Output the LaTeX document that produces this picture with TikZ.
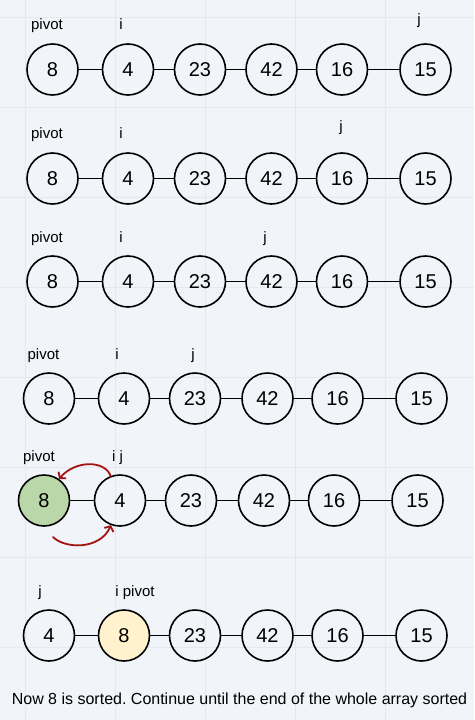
\documentclass[tikz,border=0pt]{standalone}
\usepackage{fontspec}
\setmainfont{Liberation Sans}
\usetikzlibrary{arrows.meta}
\frenchspacing
\definecolor{bgc}{HTML}{F1F4F8}
\definecolor{gridc}{HTML}{E5E9EE}
\definecolor{greenfill}{HTML}{B9D7A8}
\definecolor{yellowfill}{HTML}{FFF2CC}
\definecolor{redarrow}{HTML}{A51212}
\tikzset{
  num/.style={circle, draw=black, line width=1.6pt, minimum size=51pt, inner sep=0pt,
    font=\fontsize{20}{20}\selectfont},
  lab/.style={anchor=base, inner sep=0pt, font=\fontsize{15}{15}\selectfont},
  link/.style={draw=black, line width=1.2pt},
  swaparrow/.style={draw=redarrow, line width=1.8pt, line cap=round,
    -{Straight Barb[length=4pt,width=10pt]}},
}
\begin{document}
\begin{tikzpicture}[x=1pt,y=-1pt]
\useasboundingbox (0,0) rectangle (474,720);
\fill[bgc] (0,0) rectangle (474,720);
\foreach \gx in {25,115,205,295,385} \draw[gridc, line width=0.8pt] (\gx,0) -- (\gx,720);
\foreach \gy in {17,107,197,287,377,467,557,647} \draw[gridc, line width=0.8pt] (0,\gy) -- (474,\gy);

% Row 1
\node[num] (a1) at (52.5,69.5) {8};
\node[num] (a2) at (128,69.5) {4};
\node[num] (a3) at (200,69.5) {23};
\node[num] (a4) at (271.5,69.5) {42};
\node[num] (a5) at (342,69.5) {16};
\node[num] (a6) at (425.5,69.5) {15};
\node[lab] (ap) at (47,29) {pivot};
\node[lab] (ai) at (121,29) {i};
\node[lab] (aj) at (419,24) {j};
% Row 2
\node[num] (b1) at (52.5,178.5) {8};
\node[num] (b2) at (128,178.5) {4};
\node[num] (b3) at (200,178.5) {23};
\node[num] (b4) at (271.5,178.5) {42};
\node[num] (b5) at (342,178.5) {16};
\node[num] (b6) at (425.5,178.5) {15};
\node[lab] (bp) at (47,138) {pivot};
\node[lab] (bi) at (121,138) {i};
\node[lab] (bj) at (341,131) {j};
% Row 3
\node[num] (c1) at (52.5,281.5) {8};
\node[num] (c2) at (128,281.5) {4};
\node[num] (c3) at (200,281.5) {23};
\node[num] (c4) at (271.5,281.5) {42};
\node[num] (c5) at (342,281.5) {16};
\node[num] (c6) at (425.5,281.5) {15};
\node[lab] (cp) at (47,242) {pivot};
\node[lab] (ci) at (121,242) {i};
\node[lab] (cj) at (265,242) {j};
% Row 4
\node[num] (d1) at (49,398.5) {8};
\node[num] (d2) at (124,398.5) {4};
\node[num] (d3) at (195,398.5) {23};
\node[num] (d4) at (267.5,398.5) {42};
\node[num] (d5) at (337.5,398.5) {16};
\node[num] (d6) at (421.5,398.5) {15};
\node[lab] (dp) at (43.5,359) {pivot};
\node[lab] (di) at (117,359) {i};
\node[lab] (dj) at (193,359) {j};
% Row 5
\node[num, fill=greenfill] (e1) at (44,500.5) {8};
\node[num] (e2) at (120,500.5) {4};
\node[num] (e3) at (191,500.5) {23};
\node[num] (e4) at (264,500.5) {42};
\node[num] (e5) at (334,500.5) {16};
\node[num] (e6) at (417.5,500.5) {15};
\node[lab] (ep) at (39,461) {pivot};
\node[lab] (eij) at (117.5,461) {i j};
% Row 6
\node[num] (f1) at (49,635.5) {4};
\node[num, fill=yellowfill] (f2) at (124,635.5) {8};
\node[num] (f3) at (195,635.5) {23};
\node[num] (f4) at (267.5,635.5) {42};
\node[num] (f5) at (337.5,635.5) {16};
\node[num] (f6) at (421.5,635.5) {15};
\node[lab] (fj) at (40,596) {j};
\node[lab] (fip) at (135,596) {i pivot};

\foreach \r in {a,b,c,d,e,f}{
  \draw[link] (\r1) -- (\r2);
  \draw[link] (\r2) -- (\r3);
  \draw[link] (\r3) -- (\r4);
  \draw[link] (\r4) -- (\r5);
  \draw[link] (\r5) -- (\r6);
}

% swap arrows
\coordinate (s5) at (53,537);
\draw[swaparrow] (e2.111) .. controls (105,460) and (75,460) .. (e1.55);
\draw[swaparrow] (s5) .. controls (65,549) and (100,550) .. (e2.-110);

\node[anchor=base, inner sep=0pt, font=\fontsize{16}{16}\selectfont] (note) at (239.5,704.5)
  {Now 8 is sorted. Continue until the end of the whole array sorted};
\end{tikzpicture}
\end{document}
